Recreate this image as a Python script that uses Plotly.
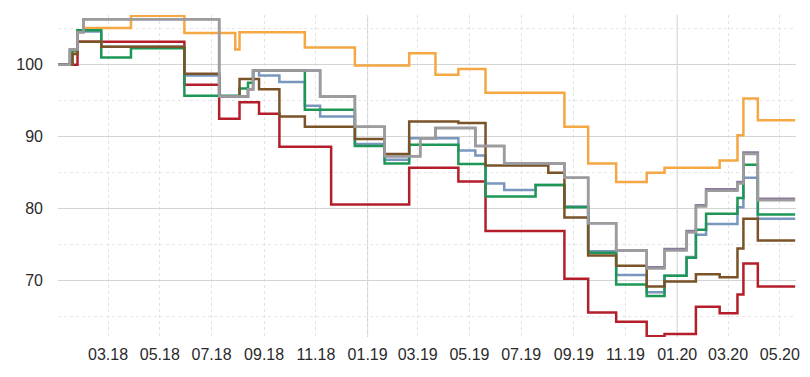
import plotly.graph_objects as go

# ---- data (step points; value holds until next date) ----
orange_dates = ["2018-01-01", "2018-01-18", "2018-01-24", "2018-01-31", "2018-03-28", "2018-05-30",
                "2018-07-29", "2018-08-03", "2018-10-19", "2018-12-17", "2019-02-19", "2019-03-22",
                "2019-04-18", "2019-05-20", "2019-08-21", "2019-09-18", "2019-10-21", "2019-11-26",
                "2019-12-17", "2020-02-20", "2020-03-12", "2020-03-19", "2020-04-05", "2020-05-19"]
orange_values = [100, 101.8, 104.8, 105.1, 106.8, 104.4,
                 102.1, 104.5, 102.4, 99.9, 101.6, 98.6,
                 99.4, 96.1, 91.4, 86.3, 83.7, 85.0,
                 85.7, 86.7, 90.2, 95.3, 92.3, 92.3]

red_dates = ["2018-01-01", "2018-01-24", "2018-05-30", "2018-07-10", "2018-08-03", "2018-08-26",
             "2018-09-19", "2018-11-19", "2019-02-19", "2019-04-18", "2019-05-20", "2019-08-21",
             "2019-09-18", "2019-10-21", "2019-11-26", "2019-12-17", "2020-01-23", "2020-02-20",
             "2020-03-12", "2020-03-19", "2020-04-05", "2020-05-19"]
red_values = [100, 103.2, 97.2, 92.5, 94.8, 93.2,
              88.6, 80.6, 85.7, 83.8, 76.9, 70.3,
              65.6, 64.3, 62.3, 62.6, 66.4, 65.5,
              68.1, 72.4, 69.2, 69.2]

blue_dates = ["2018-01-01", "2018-01-15", "2018-01-24", "2018-02-21", "2018-05-30", "2018-07-10",
              "2018-08-13", "2018-08-19", "2018-08-26", "2018-09-19", "2018-10-19", "2018-11-06",
              "2018-12-17", "2019-01-21", "2019-02-19", "2019-04-18", "2019-05-08", "2019-05-20",
              "2019-06-11", "2019-07-18", "2019-08-21", "2019-09-18", "2019-10-21", "2019-11-26",
              "2019-12-17", "2020-01-12", "2020-01-23", "2020-02-04", "2020-03-12", "2020-03-19",
              "2020-04-05", "2020-05-19"]
blue_values = [100, 102.0, 104.6, 102.5, 98.5, 95.6,
               96.6, 99.2, 98.5, 97.6, 94.3, 92.8,
               89.0, 86.8, 89.8, 88.1, 87.4, 83.5,
               82.6, 83.3, 80.3, 74.1, 70.8, 68.4,
               70.7, 73.3, 76.4, 77.9, 80.2, 84.3,
               78.6, 78.6]

green_dates = ["2018-01-01", "2018-01-18", "2018-01-24", "2018-02-21", "2018-03-28", "2018-05-30",
               "2018-08-03", "2018-08-13", "2018-08-19", "2018-10-19", "2018-12-17", "2019-01-21",
               "2019-02-19", "2019-04-18", "2019-05-20", "2019-07-18", "2019-08-21", "2019-09-18",
               "2019-10-21", "2019-11-26", "2019-12-17", "2020-01-12", "2020-01-23", "2020-02-04",
               "2020-03-12", "2020-03-19", "2020-04-05", "2020-05-19"]
green_values = [100, 102.0, 104.8, 101.0, 102.3, 95.7,
                96.7, 97.5, 99.2, 93.75, 88.7, 86.3,
                88.9, 86.2, 81.7, 83.3, 80.2, 73.9,
                69.5, 67.9, 70.7, 73.2, 77.1, 79.3,
                81.5, 86.1, 79.2, 79.2]

brown_dates = ["2018-01-01", "2018-01-18", "2018-01-24", "2018-02-21", "2018-05-30", "2018-07-10",
               "2018-08-03", "2018-08-26", "2018-09-19", "2018-10-19", "2018-12-17", "2019-01-21",
               "2019-02-19", "2019-04-18", "2019-05-20", "2019-08-02", "2019-08-21", "2019-09-18",
               "2019-10-21", "2019-11-26", "2019-12-17", "2020-01-23", "2020-02-20", "2020-03-12",
               "2020-03-19", "2020-04-05", "2020-05-19"]
brown_values = [100, 101.5, 103.2, 102.5, 98.75, 95.6,
                98.0, 96.6, 92.8, 91.4, 89.7, 87.6,
                92.1, 91.9, 86.0, 85.0, 78.8, 73.5,
                72.1, 69.2, 69.9, 70.9, 70.5, 74.5,
                78.6, 75.6, 75.6]

gray_dates = ["2018-01-01", "2018-01-15", "2018-01-24", "2018-01-31", "2018-07-10", "2018-08-13",
              "2018-08-19", "2018-11-06", "2018-12-17", "2019-01-21", "2019-03-04", "2019-03-22",
              "2019-05-08", "2019-06-11", "2019-08-21", "2019-09-18", "2019-10-21", "2019-11-26",
              "2019-12-17", "2020-01-12", "2020-01-23", "2020-02-04", "2020-03-12", "2020-03-19",
              "2020-04-05", "2020-05-19"]
gray_values = [100, 102.1, 104.5, 106.3, 95.6, 96.6,
               99.2, 95.6, 91.4, 87.3, 89.8, 91.2,
               88.7, 86.3, 84.3, 78.0, 74.2, 71.7,
               74.2, 76.7, 80.3, 82.5, 83.5, 87.6,
               81.2, 81.2]

purple_dates = gray_dates
purple_values = [100, 102.1, 104.5, 106.3, 95.6, 96.6,
                 99.2, 95.6, 91.4, 87.3, 89.8, 91.2,
                 88.7, 86.3, 84.3, 78.0, 74.2, 71.9,
                 74.4, 76.9, 80.5, 82.7, 83.7, 87.8,
                 81.4, 81.4]

tick_dates = ["2018-03-01", "2018-05-01", "2018-07-01", "2018-09-01", "2018-11-01", "2019-01-01",
              "2019-03-01", "2019-05-01", "2019-07-01", "2019-09-01", "2019-11-01", "2020-01-01",
              "2020-03-01", "2020-05-01"]
tick_labels = ["03.18", "05.18", "07.18", "09.18", "11.18", "01.19", "03.19", "05.19", "07.19",
               "09.19", "11.19", "01.20", "03.20", "05.20"]

series = [
    (orange_dates, orange_values, "#F4A742"),
    (red_dates, red_values, "#B31E2A"),
    (blue_dates, blue_values, "#7896BE"),
    (green_dates, green_values, "#1E9656"),
    (brown_dates, brown_values, "#7A5328"),
    (purple_dates, purple_values, "#8B7A9E"),
    (gray_dates, gray_values, "#9C9C9C"),
]

fig = go.Figure()
for d, v, c in series:
    fig.add_trace(go.Scatter(x=d, y=v, mode="lines", line=dict(color=c, width=2.5, shape="hv"),
                             hoverinfo="skip", showlegend=False))

font_family = "Liberation Sans, Arial, sans-serif"

fig.update_layout(
    width=810, height=377,
    margin=dict(l=58, r=14, t=15, b=40),
    paper_bgcolor="white", plot_bgcolor="white",
    font=dict(family=font_family, size=16, color="#2a2a2a"),
    xaxis=dict(
        range=["2018-01-01", "2020-05-20"],
        type="date",
        tickvals=tick_dates, ticktext=tick_labels,
        showgrid=True, gridcolor="#e2e2e2", griddash="dot", gridwidth=1,
        zeroline=False, showline=False, ticks="",
        ticklabelstandoff=6, automargin=False,
    ),
    yaxis=dict(
        range=[62.2, 106.9],
        tick0=0, dtick=10,
        showgrid=True, gridcolor="#d4d4d4", gridwidth=1,
        zeroline=False, showline=False, ticks="",
        ticklabelstandoff=14, automargin=False,
        minor=dict(dtick=5, tick0=0, showgrid=True, gridcolor="#e6e6e6", griddash="dot", ticks=""),
    ),
    shapes=[
        dict(type="line", xref="x", yref="paper", x0="2019-01-01", x1="2019-01-01", y0=0, y1=1,
             line=dict(color="#cfcfcf", width=1), layer="below"),
        dict(type="line", xref="x", yref="paper", x0="2020-01-01", x1="2020-01-01", y0=0, y1=1,
             line=dict(color="#cfcfcf", width=1), layer="below"),
    ],
)

fig.write_html("out.html", config={"displayModeBar": False},
               post_script="document.body.style.margin='0';document.body.style.overflow='hidden';")
